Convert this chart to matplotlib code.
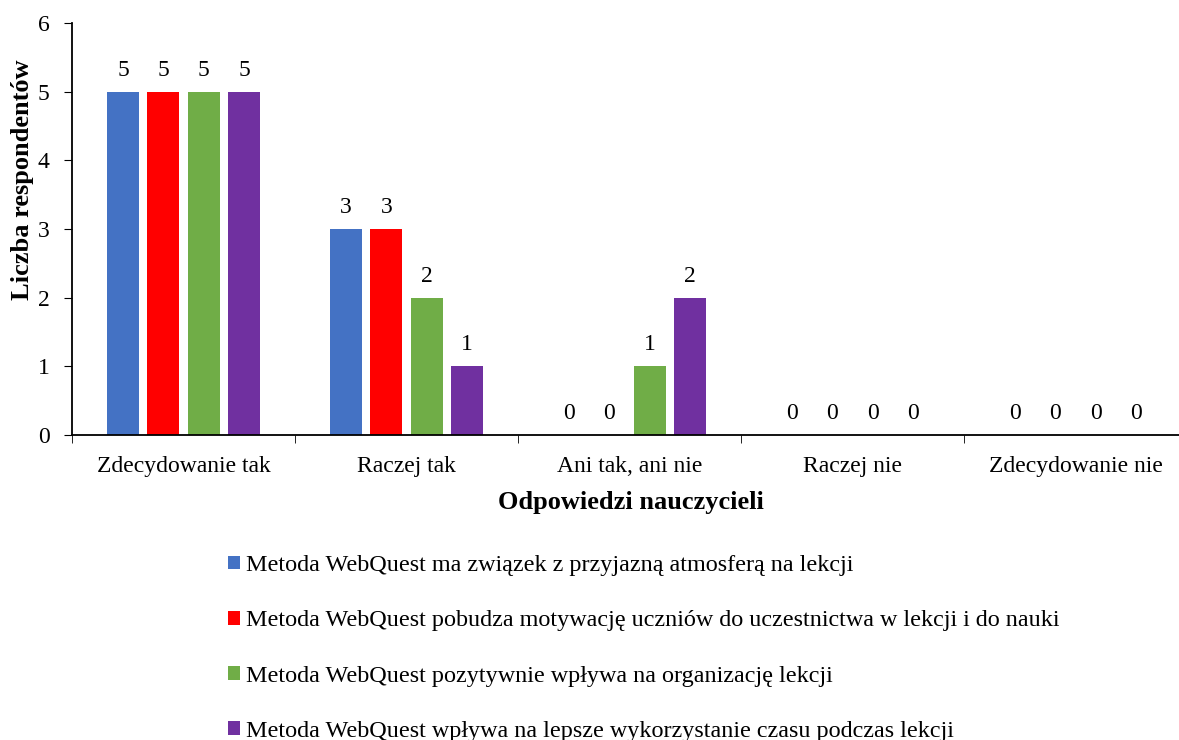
import numpy as np
import matplotlib
matplotlib.use('Agg')
import matplotlib.pyplot as plt

plt.rcParams['font.family'] = ['Liberation Serif', 'DejaVu Serif']

categories = ['Zdecydowanie tak', 'Raczej tak', 'Ani tak, ani nie', 'Raczej nie', 'Zdecydowanie nie']
series_names = [
    'Metoda WebQuest ma związek z przyjazną atmosferą na lekcji',
    'Metoda WebQuest pobudza motywację uczniów do uczestnictwa w lekcji i do nauki',
    'Metoda WebQuest pozytywnie wpływa na organizację lekcji',
    'Metoda WebQuest wpływa na lepsze wykorzystanie czasu podczas lekcji',
]
atmosfera = [5, 3, 0, 0, 0]
motywacja = [5, 3, 0, 0, 0]
organizacja = [5, 2, 1, 0, 0]
czas = [5, 1, 2, 0, 0]
colors = ['#4472C4', '#FF0000', '#70AD47', '#7030A0']

fig = plt.figure(figsize=(11.79, 7.40), dpi=100)
ax = fig.add_axes([72/1179, 1 - 435/740, 1115/1179, 412/740])

x = np.arange(len(categories))
width = 0.1435
step = 0.181
for i, (vals, name, c) in enumerate(zip([atmosfera, motywacja, organizacja, czas], series_names, colors)):
    pos = x + (i - 1.5) * step
    bars = ax.bar(pos, vals, width, color=c, label=name)
    for p, v in zip(pos, vals):
        ax.annotate(str(v), (p, v), xytext=(0, 8), textcoords='offset points',
                    ha='center', va='bottom', fontsize=17)

ax.set_xlim(-0.5, len(categories) - 0.5)
ax.set_ylim(0, 6)
ax.set_yticks(range(7))
ax.tick_params(axis='y', labelsize=17, direction='out', length=6, pad=10)
ax.set_xticks(x)
ax.set_xticklabels(categories, fontsize=17)
ax.set_xticks(np.arange(-0.5, len(categories)), minor=True)
ax.tick_params(axis='x', which='major', length=0, pad=15)
ax.tick_params(axis='x', which='minor', length=6, direction='out')
for s in ['top', 'right']:
    ax.spines[s].set_visible(False)
for s in ['left', 'bottom']:
    ax.spines[s].set_linewidth(1.3)

ax.set_ylabel('Liczba respondentów', fontsize=19, fontweight='bold')
ax.yaxis.set_label_coords(-38/1115, (435 - 180) / 412)
ax.set_xlabel('Odpowiedzi nauczycieli', fontsize=19, fontweight='bold')
ax.xaxis.set_label_coords((631 - 72) / 1115, -56/412)

fig.legend(loc='upper left', bbox_to_anchor=(228/1179, 1 - 555/740), frameon=False,
           fontsize=17.4, handlelength=0.5, handleheight=0.5, handletextpad=0.25,
           labelspacing=1.42, borderaxespad=0, borderpad=0)

fig.savefig('out.png', dpi=100)
